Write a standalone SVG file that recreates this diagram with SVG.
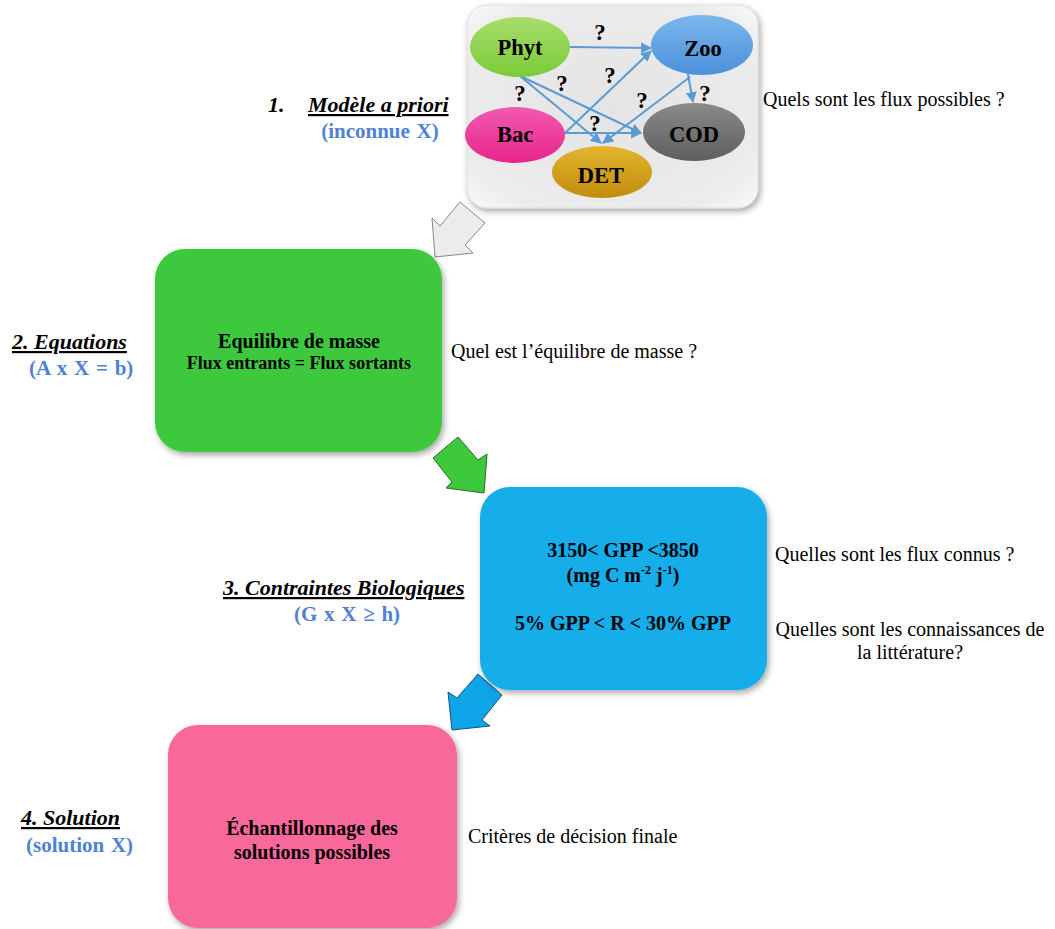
<svg xmlns="http://www.w3.org/2000/svg" width="1055" height="929" viewBox="0 0 1055 929">
<style>
.t{font-family:"Liberation Serif","Times New Roman",serif;fill:#000}
.q{font-family:"Liberation Serif","Times New Roman",serif;font-size:20px;fill:#000}
.nl{font-family:"Liberation Serif","Times New Roman",serif;font-size:22.5px;font-weight:bold;fill:#000;text-anchor:middle}
.qm{font-family:"Liberation Serif","Times New Roman",serif;font-size:23px;font-weight:bold;fill:#000;text-anchor:middle}
.hd{font-family:"Liberation Serif","Times New Roman",serif;font-size:22px;font-weight:bold;font-style:italic;fill:#000}
.sub{font-family:"Liberation Serif","Times New Roman",serif;font-size:21px;font-weight:bold;fill:#4f82d4;word-spacing:1.5px}
.bx{font-family:"Liberation Serif","Times New Roman",serif;font-weight:bold;fill:#000;text-anchor:middle}
.fl{stroke:#5b9bd5;stroke-width:2;fill:none;marker-end:url(#ah)}
</style>
<defs>
<marker id="ah" viewBox="0 0 10 10" refX="9" refY="5" markerWidth="5.5" markerHeight="5.5" orient="auto-start-reverse" markerUnits="strokeWidth">
<path d="M0,0 L10,5 L0,10 z" fill="#5b9bd5"/>
</marker>
<filter id="sh" x="-10%" y="-10%" width="125%" height="125%">
<feGaussianBlur in="SourceAlpha" stdDeviation="3"/>
<feOffset dx="2" dy="3" result="b"/>
<feComponentTransfer><feFuncA type="linear" slope="0.35"/></feComponentTransfer>
<feMerge><feMergeNode/><feMergeNode in="SourceGraphic"/></feMerge>
</filter>
<radialGradient id="gPanel" cx="50%" cy="50%" r="70%">
<stop offset="0" stop-color="#e4e4e4"/><stop offset="0.8" stop-color="#ececec"/><stop offset="1" stop-color="#fafafa"/>
</radialGradient>
<linearGradient id="gPhyt" x1="0" y1="0" x2="0" y2="1"><stop offset="0" stop-color="#a6dd6a"/><stop offset="1" stop-color="#7ccb3a"/></linearGradient>
<linearGradient id="gZoo" x1="0" y1="0" x2="0" y2="1"><stop offset="0" stop-color="#7db6ec"/><stop offset="1" stop-color="#4a90dc"/></linearGradient>
<linearGradient id="gBac" x1="0" y1="0" x2="0" y2="1"><stop offset="0" stop-color="#f25aae"/><stop offset="1" stop-color="#e8248c"/></linearGradient>
<linearGradient id="gCod" x1="0" y1="0" x2="0" y2="1"><stop offset="0" stop-color="#8a8a8a"/><stop offset="1" stop-color="#5e5e5e"/></linearGradient>
<linearGradient id="gDet" x1="0" y1="0" x2="0" y2="1"><stop offset="0" stop-color="#e3b530"/><stop offset="1" stop-color="#c08c0c"/></linearGradient>
</defs>

<g id="panel-modele">
<rect x="467" y="5" width="291" height="203" rx="20" fill="url(#gPanel)" stroke="#dcdcdc" stroke-width="1" filter="url(#sh)"/>
</g>

<g id="connectors-flux">
<line class="fl" x1="570" y1="47" x2="651" y2="48"/>
<line class="fl" x1="520" y1="76" x2="601" y2="143"/>
<line class="fl" x1="520" y1="76" x2="641" y2="133"/>
<line class="fl" x1="565" y1="133" x2="651" y2="51"/>
<line class="fl" x1="565" y1="133" x2="641" y2="133"/>
<line class="fl" x1="690" y1="77" x2="603" y2="143"/>
<line class="fl" x1="687" y1="69" x2="693" y2="102"/>
</g>

<g id="node-phyt"><ellipse cx="520" cy="47" rx="50" ry="30" fill="url(#gPhyt)"/><text class="nl" x="520" y="55">Phyt</text></g>
<g id="node-zoo"><ellipse cx="702" cy="45" rx="51" ry="30" fill="url(#gZoo)"/><text class="nl" x="703" y="56">Zoo</text></g>
<g id="node-bac"><ellipse cx="515" cy="135" rx="50" ry="28" fill="url(#gBac)"/><text class="nl" x="515" y="142">Bac</text></g>
<g id="node-cod"><ellipse cx="694" cy="132" rx="51" ry="29" fill="url(#gCod)"/><text class="nl" x="694" y="142">COD</text></g>
<g id="node-det"><ellipse cx="602" cy="172" rx="50" ry="26" fill="url(#gDet)"/><text class="nl" x="601" y="183">DET</text></g>

<g id="question-marks">
<text class="qm" x="600" y="40">?</text>
<text class="qm" x="610" y="83">?</text>
<text class="qm" x="562" y="91">?</text>
<text class="qm" x="520" y="101">?</text>
<text class="qm" x="642" y="108">?</text>
<text class="qm" x="705" y="101">?</text>
<text class="qm" x="595" y="131">?</text>
</g>

<g id="label-1">
<text class="hd" x="268" y="112">1.</text>
<text class="hd" x="308" y="112" text-decoration="underline">Modèle a priori</text>
<text class="sub" x="380" y="138" text-anchor="middle">(inconnue X)</text>
<text class="q" x="763" y="106">Quels sont les flux possibles ?</text>
</g>

<g id="big-arrows">
<polygon points="432,218 440,226 460,202 485,223 465,245 473,253 435,257" fill="#ececec" stroke="#888" stroke-width="1"/>
<polygon points="433,458 458,437 478,460 487,454 484,493 446,488 452,482" fill="#3ec83c" stroke="#2a6a2a" stroke-width="1"/>
<polygon points="448,692 457,698 478,674 502,695 482,720 490,726 452,730" fill="#0ea5e8" stroke="#1a4f80" stroke-width="1"/>
</g>

<g id="box-equations">
<rect x="155" y="249" width="287" height="203" rx="30" fill="#3ec83c" filter="url(#sh)"/>
<text class="bx" x="299" y="348" font-size="20">Equilibre de masse</text>
<text class="bx" x="299" y="369" font-size="18">Flux entrants = Flux sortants</text>
<text class="hd" x="12" y="349" text-decoration="underline">2. Equations</text>
<text class="sub" x="29" y="375" font-size="22">(A x X = b)</text>
<text class="q" x="451" y="358">Quel est l’équilibre de masse ?</text>
</g>

<g id="box-contraintes">
<rect x="480" y="487" width="287" height="203" rx="30" fill="#14adeb" filter="url(#sh)"/>
<text class="bx" x="623" y="557" font-size="20">3150&lt; GPP &lt;3850</text>
<text class="bx" x="623" y="582" font-size="20">(mg C m<tspan font-size="12" dy="-8">-2</tspan><tspan dy="8"> j</tspan><tspan font-size="12" dy="-8">-1</tspan><tspan dy="8">)</tspan></text>
<text class="bx" x="623" y="630" font-size="20">5% GPP &lt; R &lt; 30% GPP</text>
<text class="hd" x="223" y="595" text-decoration="underline">3. Contraintes Biologiques</text>
<text class="sub" x="347" y="621" text-anchor="middle" font-size="22">(G x X ≥ h)</text>
<text class="q" x="775" y="561">Quelles sont les flux connus ?</text>
<text class="q" x="910" y="636" text-anchor="middle">Quelles sont les connaissances de</text>
<text class="q" x="910" y="659" text-anchor="middle">la littérature?</text>
</g>

<g id="box-solution">
<rect x="168" y="725" width="289" height="203" rx="30" fill="#f8689a" filter="url(#sh)"/>
<text class="bx" x="312" y="835" font-size="20">Échantillonnage des</text>
<text class="bx" x="312" y="859" font-size="20">solutions possibles</text>
<text class="hd" x="21" y="825" text-decoration="underline">4. Solution</text>
<text class="sub" x="26" y="852" font-size="22.5">(solution X)</text>
<text class="q" x="468" y="843">Critères de décision finale</text>
</g>
</svg>
